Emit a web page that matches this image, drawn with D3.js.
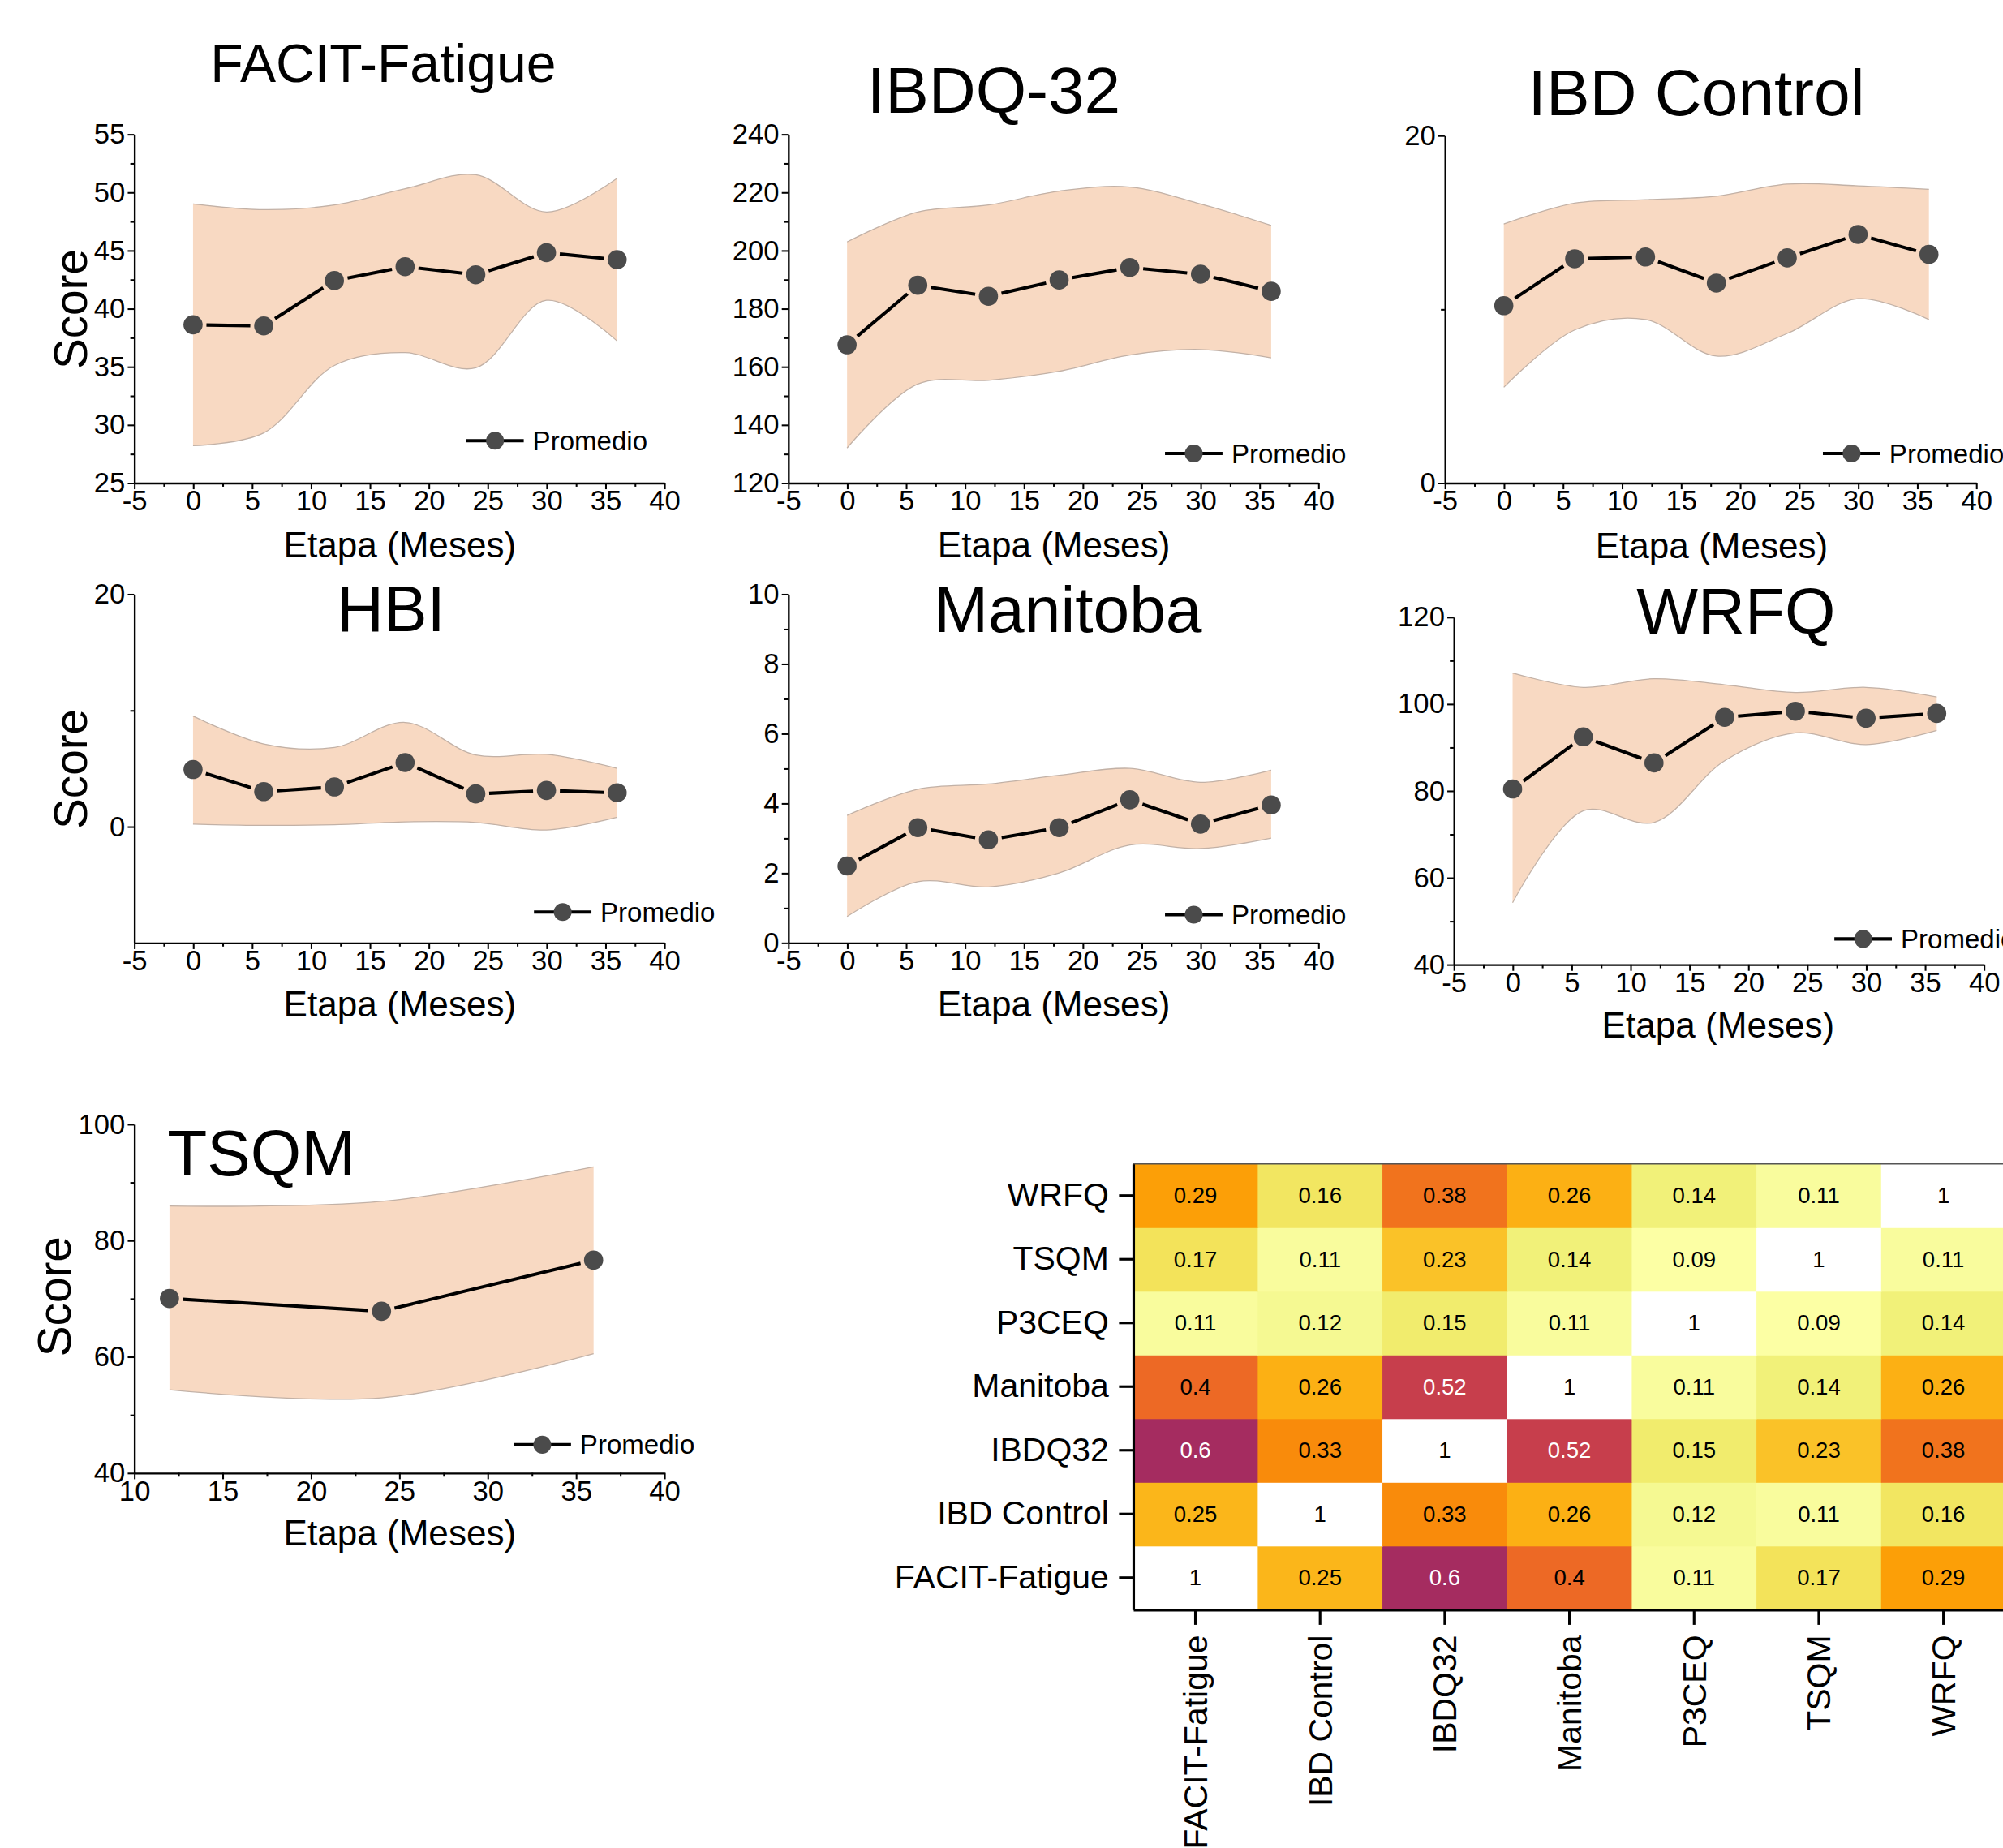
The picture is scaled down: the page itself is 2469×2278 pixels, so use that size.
<!DOCTYPE html>
<html>
<head>
<meta charset="utf-8">
<script src="https://cdn.jsdelivr.net/npm/d3@7"></script>
<style>
body { margin: 0; background: #fff; overflow: hidden; }
svg { display: block; font-family: "Liberation Sans", Arial, sans-serif; }
</style>
</head>
<body>
<svg id="chart"></svg>
<script>
// Page size and the drawing units (everything laid out on a 1568 wide grid)
const width = 2469;
const height = 2278;
const VW = 1568;
const VH = VW * height / width;

// Follow-up months
const months = [0, 6, 12, 18, 24, 30, 36];
const tsqmMonths = [12, 24, 36];

// Mean score and the upper / lower edges of the shaded band
const facitMean  = [38.6, 38.5, 42.4, 43.6, 42.9, 44.8, 44.2];
const facitUpper = [49.0, 48.5, 48.9, 50.3, 51.5, 48.3, 51.2];
const facitLower = [28.2, 29.3, 35.1, 36.2, 34.9, 40.7, 37.2];

const ibdqMean  = [167.5, 188.0, 184.2, 189.8, 194.1, 191.8, 185.9];
const ibdqUpper = [202.9, 213.2, 215.6, 220.4, 221.8, 216.0, 208.6];
const ibdqLower = [132.0, 154.0, 155.3, 158.4, 164.0, 165.9, 163.0];

const ibdcMean  = [10.2, 12.9, 13.0, 11.5, 12.95, 14.3, 13.15];
const ibdcUpper = [14.9, 16.1, 16.3, 16.5, 17.2, 17.1, 16.9];
const ibdcLower = [5.5, 8.8, 9.4, 7.3, 8.6, 10.6, 9.4];

const hbiMean  = [4.9, 3.0, 3.4, 5.5, 2.8, 3.1, 2.9];
const hbiUpper = [9.5, 7.1, 6.8, 8.95, 6.15, 6.2, 5.0];
const hbiLower = [0.2, 0.1, 0.15, 0.4, 0.35, -0.3, 0.8];

const manitobaMean  = [2.2, 3.3, 2.95, 3.3, 4.1, 3.4, 3.95];
const manitobaUpper = [3.65, 4.4, 4.55, 4.8, 5.0, 4.6, 4.95];
const manitobaLower = [0.75, 1.75, 1.6, 2.0, 2.8, 2.7, 3.0];

const wrfqMean  = [80.4, 92.4, 86.4, 96.9, 98.3, 96.7, 97.8];
const wrfqUpper = [107.1, 103.8, 105.8, 104.4, 102.6, 103.8, 101.6];
const wrfqLower = [54.2, 75.4, 72.7, 86.9, 93.3, 90.6, 93.9];

const tsqmMean  = [70.0, 67.8, 76.6];
const tsqmUpper = [85.9, 86.7, 92.65];
const tsqmLower = [54.3, 52.9, 60.5];

// Correlation matrix
const instruments = ["FACIT-Fatigue", "IBD Control", "IBDQ32", "Manitoba", "P3CEQ", "TSQM", "WRFQ"];
const correlations = [
    [1, 0.25, 0.6, 0.4, 0.11, 0.17, 0.29],
    [0.25, 1, 0.33, 0.26, 0.12, 0.11, 0.16],
    [0.6, 0.33, 1, 0.52, 0.15, 0.23, 0.38],
    [0.4, 0.26, 0.52, 1, 0.11, 0.14, 0.26],
    [0.11, 0.12, 0.15, 0.11, 1, 0.09, 0.14],
    [0.17, 0.11, 0.23, 0.14, 0.09, 1, 0.11],
    [0.29, 0.16, 0.38, 0.26, 0.14, 0.11, 1]
];

const legendLabel = "Promedio";
const xTitle = "Etapa (Meses)";
const yTitle = "Score";

const bandFill = "#f8d9c2";
const bandEdge = "#c2b1a6";
const markerFill = "#4b4b4b";
const tickFont = 22;

const svg = d3.select("#chart")
    .attr("width", width)
    .attr("height", height)
    .attr("viewBox", `0 0 ${VW} ${VH}`);

// Panel layout
const panels = [
    { title: "FACIT-Fatigue", titleX: 300, titleY: 64, titleSize: 42,
      left: 105, right: 520, top: 105, bottom: 378, xDomain: [-5, 40], yDomain: [25, 55],
      yMajor: d3.range(25, 56, 5), yMinor: d3.range(27.5, 55, 5),
      xs: months, mean: facitMean, upper: facitUpper, lower: facitLower,
      score: [68, 242], etapa: [313, 436], legend: [365, 345] },
    { title: "IBDQ-32", titleX: 778, titleY: 88, titleSize: 51,
      left: 617, right: 1032, top: 105, bottom: 378, xDomain: [-5, 40], yDomain: [120, 240],
      yMajor: d3.range(120, 241, 20), yMinor: d3.range(130, 240, 20),
      xs: months, mean: ibdqMean, upper: ibdqUpper, lower: ibdqLower,
      score: null, etapa: [825, 436], legend: [912, 355] },
    { title: "IBD Control", titleX: 1328, titleY: 90, titleSize: 51,
      left: 1131, right: 1547, top: 106, bottom: 378, xDomain: [-5, 40], yDomain: [0, 20],
      yMajor: [0, 20], yMinor: [10],
      xs: months, mean: ibdcMean, upper: ibdcUpper, lower: ibdcLower,
      score: null, etapa: [1340, 437], legend: [1427, 355] },
    { title: "HBI", titleX: 306, titleY: 494, titleSize: 51,
      left: 105, right: 520, top: 465, bottom: 738, xDomain: [-5, 40], yDomain: [-10, 20],
      yMajor: [0, 20], yMinor: [10],
      xs: months, mean: hbiMean, upper: hbiUpper, lower: hbiLower,
      score: [68, 602], etapa: [313, 796], legend: [418, 714] },
    { title: "Manitoba", titleX: 836, titleY: 495, titleSize: 51,
      left: 617, right: 1032, top: 465, bottom: 738, xDomain: [-5, 40], yDomain: [0, 10],
      yMajor: d3.range(0, 11, 2), yMinor: d3.range(1, 10, 2),
      xs: months, mean: manitobaMean, upper: manitobaUpper, lower: manitobaLower,
      score: null, etapa: [825, 796], legend: [912, 716] },
    { title: "WRFQ", titleX: 1359, titleY: 496, titleSize: 51,
      left: 1138, right: 1553, top: 483, bottom: 755, xDomain: [-5, 40], yDomain: [40, 120],
      yMajor: d3.range(40, 121, 20), yMinor: d3.range(50, 120, 20),
      xs: months, mean: wrfqMean, upper: wrfqUpper, lower: wrfqLower,
      score: null, etapa: [1345, 812], legend: [1436, 735] },
    { title: "TSQM", titleX: 131, titleY: 920, titleSize: 51, titleAnchor: "start",
      left: 105, right: 520, top: 880, bottom: 1153, xDomain: [10, 40], yDomain: [40, 100],
      yMajor: d3.range(40, 101, 20), yMinor: d3.range(50, 100, 20),
      xs: tsqmMonths, mean: tsqmMean, upper: tsqmUpper, lower: tsqmLower,
      score: [55, 1015], etapa: [313, 1210], legend: [402, 1131] }
];

// plain hyphen for negatives, like the original
const plain = d => String(d);

function styleAxis(g, size) {
    g.selectAll("path.domain").attr("stroke", "#000").attr("stroke-width", 1.5);
    g.selectAll(".tick line").attr("stroke", "#000").attr("stroke-width", 1.3);
    g.selectAll(".tick text")
        .attr("fill", "#000")
        .style("font-family", "'Liberation Sans', Arial, sans-serif")
        .style("font-size", size + "px");
}

function drawPanel(p) {
    const g = svg.append("g");
    const x = d3.scaleLinear().domain(p.xDomain).range([p.left, p.right]);
    const y = d3.scaleLinear().domain(p.yDomain).range([p.bottom, p.top]);
    const pts = p.xs.map((m, i) => ({ m: m, mean: p.mean[i], up: p.upper[i], lo: p.lower[i] }));
    const curve = d3.curveCatmullRom.alpha(0.5);

    // shaded band
    g.append("path")
        .datum(pts)
        .attr("d", d3.area().x(d => x(d.m)).y0(d => y(d.lo)).y1(d => y(d.up)).curve(curve))
        .attr("fill", bandFill);
    ["up", "lo"].forEach(k => {
        g.append("path")
            .datum(pts)
            .attr("d", d3.line().x(d => x(d.m)).y(d => y(d[k])).curve(curve))
            .attr("fill", "none")
            .attr("stroke", bandEdge)
            .attr("stroke-width", 0.8);
    });

    // x axis: majors every 5, minors in between
    const xMajor = d3.range(p.xDomain[0], p.xDomain[1] + 0.1, 5);
    const xMinor = d3.range(p.xDomain[0] + 2.5, p.xDomain[1], 5);
    const xa = g.append("g").attr("transform", `translate(0,${p.bottom})`)
        .call(d3.axisBottom(x).tickValues(xMajor).tickSize(5).tickSizeOuter(0).tickPadding(1).tickFormat(plain));
    styleAxis(xa, tickFont);
    const xm = g.append("g").attr("transform", `translate(0,${p.bottom})`)
        .call(d3.axisBottom(x).tickValues(xMinor).tickSize(3).tickSizeOuter(0).tickFormat(""));
    xm.select("path.domain").remove();
    styleAxis(xm, tickFont);

    // y axis
    const ya = g.append("g").attr("transform", `translate(${p.left},0)`)
        .call(d3.axisLeft(y).tickValues(p.yMajor).tickSize(5).tickSizeOuter(0).tickPadding(2).tickFormat(plain));
    styleAxis(ya, tickFont);
    const ym = g.append("g").attr("transform", `translate(${p.left},0)`)
        .call(d3.axisLeft(y).tickValues(p.yMinor).tickSize(3).tickSizeOuter(0).tickFormat(""));
    ym.select("path.domain").remove();
    styleAxis(ym, tickFont);

    // mean line, broken around the markers
    const r = 7.5;
    const gap = r + 3;
    const segs = d3.pairs(pts).map(([a, b]) => {
        const x1 = x(a.m), y1 = y(a.mean), x2 = x(b.m), y2 = y(b.mean);
        const L = Math.hypot(x2 - x1, y2 - y1);
        const ux = (x2 - x1) / L, uy = (y2 - y1) / L;
        return [x1 + ux * gap, y1 + uy * gap, x2 - ux * gap, y2 - uy * gap];
    });
    g.selectAll(".seg")
        .data(segs)
        .enter().append("line")
        .attr("x1", d => d[0]).attr("y1", d => d[1])
        .attr("x2", d => d[2]).attr("y2", d => d[3])
        .attr("stroke", "#000")
        .attr("stroke-width", 2.6);
    g.selectAll(".dot")
        .data(pts)
        .enter().append("circle")
        .attr("cx", d => x(d.m))
        .attr("cy", d => y(d.mean))
        .attr("r", r)
        .attr("fill", markerFill);

    // legend
    const lg = g.append("g").attr("transform", `translate(${p.legend[0]},${p.legend[1]})`);
    lg.append("line").attr("x1", 0).attr("x2", 45).attr("stroke", "#000").attr("stroke-width", 2.6);
    lg.append("circle").attr("cx", 22.5).attr("r", 7).attr("fill", markerFill);
    lg.append("text")
        .attr("x", 52)
        .attr("dy", "0.35em")
        .style("font-size", "21px")
        .text(legendLabel);

    // titles
    g.append("text")
        .attr("x", p.titleX)
        .attr("y", p.titleY)
        .attr("text-anchor", p.titleAnchor || "middle")
        .style("font-size", p.titleSize + "px")
        .text(p.title);

    g.append("text")
        .attr("x", p.etapa[0])
        .attr("y", p.etapa[1])
        .attr("text-anchor", "middle")
        .style("font-size", "28px")
        .text(xTitle);

    if (p.score) {
        g.append("text")
            .attr("transform", `translate(${p.score[0]},${p.score[1]}) rotate(-90)`)
            .attr("text-anchor", "middle")
            .style("font-size", "36px")
            .text(yTitle);
    }
}

panels.forEach(drawPanel);

// Correlation heatmap
const hmLeft = 887, hmTop = 911, cellW = 97.6, hmBottom = 1260;
const hx = d3.scaleBand().domain(instruments).range([hmLeft, hmLeft + cellW * instruments.length]);
const hy = d3.scaleBand().domain(instruments.slice().reverse()).range([hmTop, hmBottom]);
const color = d3.scaleSequential(d3.interpolateInferno).domain([1, 0.1]).clamp(true);

const cells = correlations.flatMap((row, i) => row.map((v, j) => ({ r: instruments[i], c: instruments[j], v: v, diag: i === j })));

const hm = svg.append("g");
hm.selectAll("rect")
    .data(cells)
    .enter().append("rect")
    .attr("x", d => hx(d.c))
    .attr("y", d => hy(d.r))
    .attr("width", hx.bandwidth() + 0.5)
    .attr("height", hy.bandwidth() + 0.5)
    .attr("fill", d => d.diag ? "#ffffff" : color(d.v));

hm.selectAll(".cell-label")
    .data(cells)
    .enter().append("text")
    .attr("class", "cell-label")
    .attr("x", d => hx(d.c) + hx.bandwidth() / 2)
    .attr("y", d => hy(d.r) + hy.bandwidth() / 2)
    .attr("dy", "0.35em")
    .attr("text-anchor", "middle")
    .attr("fill", d => (!d.diag && d.v >= 0.5) ? "#fff" : "#000")
    .style("font-size", "17.5px")
    .text(d => d.v);

// frame
hm.append("line")
    .attr("x1", hmLeft).attr("x2", hmLeft + cellW * instruments.length)
    .attr("y1", hmTop).attr("y2", hmTop)
    .attr("stroke", "#555").attr("stroke-width", 1.2);

const hya = hm.append("g").attr("transform", `translate(${hmLeft},0)`)
    .call(d3.axisLeft(hy).tickSize(11).tickSizeOuter(0).tickPadding(8));
styleAxis(hya, 26);
hya.selectAll("path.domain, .tick line").attr("stroke-width", 2);

const hxa = hm.append("g").attr("transform", `translate(0,${hmBottom})`)
    .call(d3.axisBottom(hx).tickSize(12).tickSizeOuter(0).tickPadding(8));
styleAxis(hxa, 26);
hxa.selectAll("path.domain, .tick line").attr("stroke-width", 2);
hxa.selectAll(".tick text")
    .attr("transform", "translate(0,20) rotate(-90)")
    .attr("text-anchor", "end")
    .attr("x", 0)
    .attr("y", 0)
    .attr("dy", "0.35em");
</script>
</body>
</html>
